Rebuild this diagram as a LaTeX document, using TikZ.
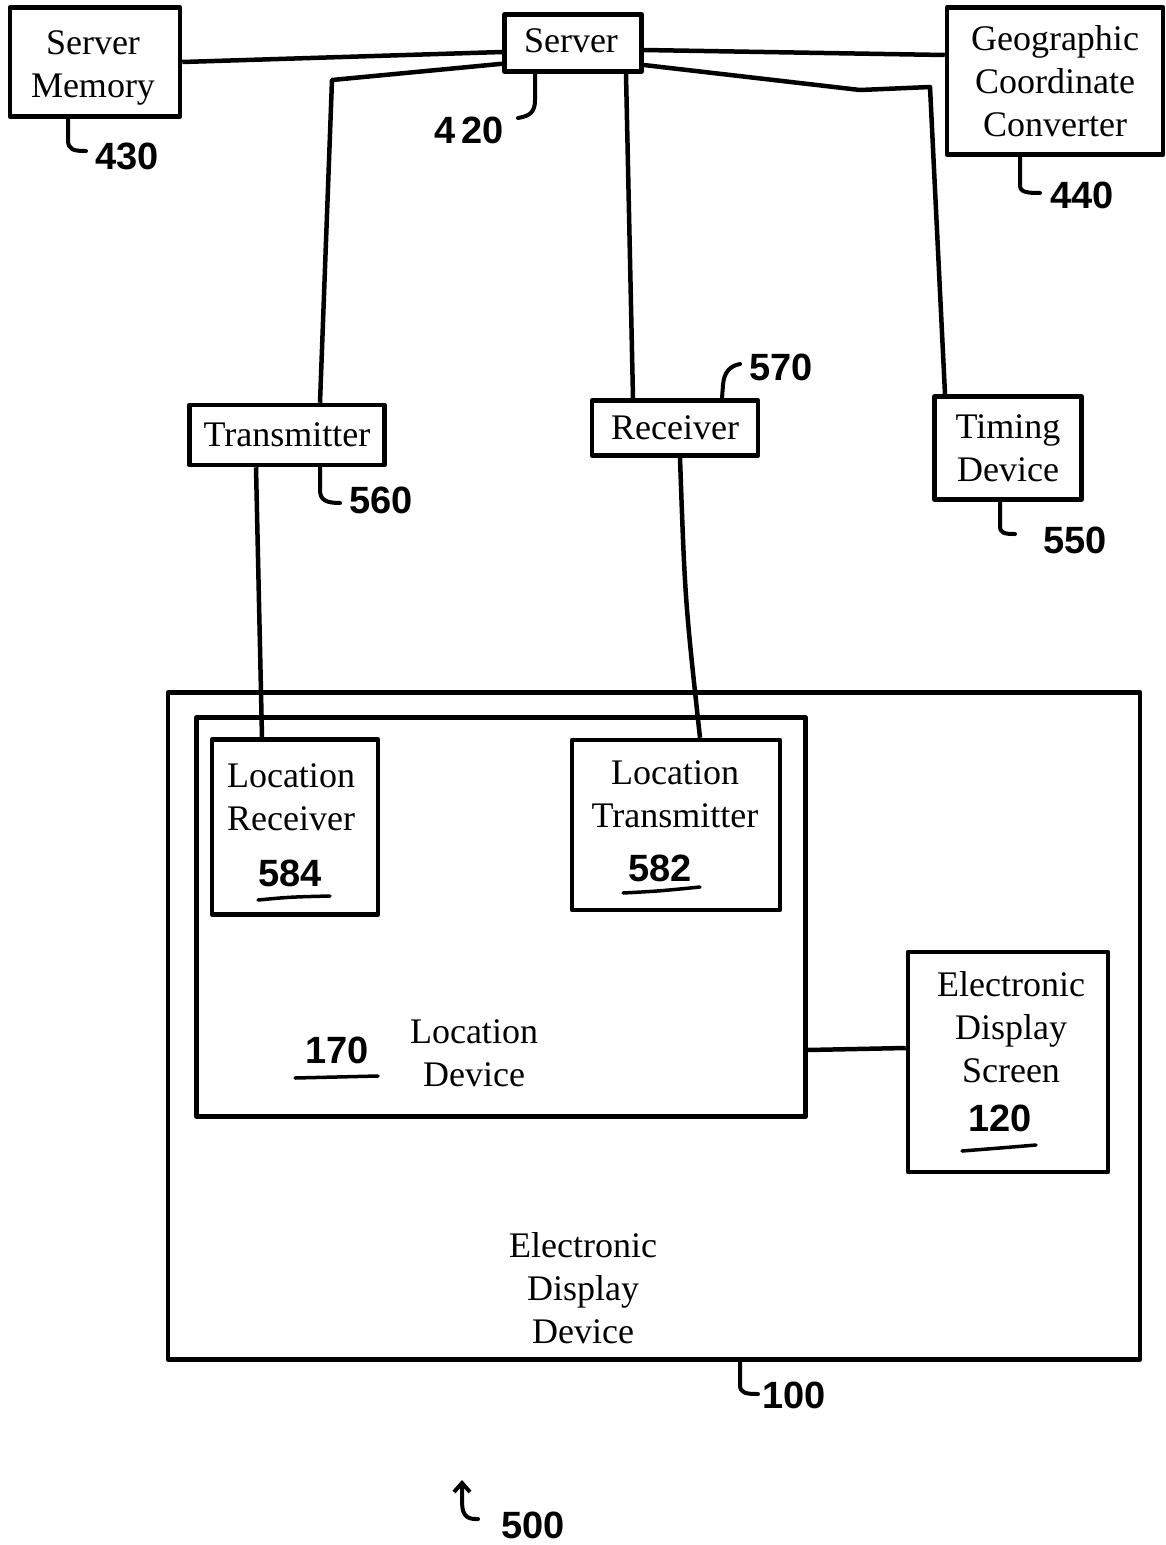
\documentclass[tikz,border=0pt]{standalone}
\usepackage{fontspec}
\setmainfont{Liberation Serif}
\newfontfamily\handfont{Liberation Sans}
\usetikzlibrary{calc,arrows.meta}
\newcommand{\lblfont}{\fontsize{36}{43}\selectfont}
\newcommand{\numfont}{\handfont\bfseries\fontsize{38}{44}\selectfont}
\begin{document}
\begin{tikzpicture}[x=1pt,y=-1pt,
  box/.style={draw, line width=4.5pt, line join=round, inner sep=0pt, align=center, font=\lblfont},
  txt/.style={inner sep=0pt, align=center, font=\lblfont},
  wire/.style={line width=4.5pt, line join=round},
  lead/.style={line width=4pt, line cap=round, line join=round},
  num/.style={inner sep=0pt, font=\numfont},
  uline/.style={line width=3.5pt, line cap=round}]
\useasboundingbox (0,0) rectangle (1166,1545);
% top row
\node[box, minimum width=170, minimum height=109] (sm) at (95,62) {};
\node[txt] (smt) at (93,68) {Server\\Memory};
\node[box, minimum width=137, minimum height=57] (srv) at (573,43) {};
\node[txt] (srvt) at (571,41) {Server};
\node[box, minimum width=216, minimum height=147] (geo) at (1055,81) {Geographic\\Coordinate\\Converter};
% middle row
\node[box, minimum width=195, minimum height=60] (tx) at (287,435) {Transmitter};
\node[box, minimum width=166, minimum height=55] (rx) at (675,428) {Receiver};
\node[box, minimum width=147, minimum height=103] (tim) at (1008,448) {Timing\\Device};
% device
\node[box, minimum width=972, minimum height=667] (edd) at (654,1026) {};
\node[box, minimum width=609, minimum height=399] (ld) at (501,917) {};
\node[box, minimum width=166, minimum height=175] (lr) at (295,827) {};
\node[box, minimum width=208, minimum height=170] (lt) at (676,825) {};
\node[box, minimum width=200, minimum height=220] (eds) at (1008,1062) {};
% texts inside device
\node[txt] (eddt) at (583,1288) {Electronic\\Display\\Device};
\node[txt] (ldt) at (474,1053) {Location\\Device};
\node[txt] (lrt) at (291,797) {Location\\Receiver};
\node[txt] (ltt) at (675,794) {Location\\Transmitter};
\node[txt] (edst) at (1011,1027) {Electronic\\Display\\Screen};
% underlined numbers
\node[num] (n170) at (337,1050) {170};
\node[num] (n584) at (290,873) {584};
\node[num] (n582) at (660,868) {582};
\node[num] (n120) at (1000,1118) {120};
\draw[uline] (295,1078) -- (378,1076);
\draw[uline] (258,900) .. controls (290,897) .. (330,896);
\draw[uline] (623,893) .. controls (660,891) .. (700,887);
\draw[uline] (962,1151) .. controls (1000,1148) .. (1036,1145);
% connectors
\draw[wire] (sm.east) -- ($(srv.west)+(0,9)$);
\draw[wire] ($(srv.east)+(0,7)$) -- ($(geo.west)+(0,-26)$);
\coordinate (c1) at (332,80);
\draw[wire] ($(srv.south west)+(0,-10)$) -- (c1) -- ($(tx.north)+(33,0)$);
\draw[wire] ($(srv.south)+(53,0)$) -- ($(rx.north)+(-42,0)$);
\coordinate (c2) at (860,90);
\coordinate (c3) at (930,87);
\draw[wire] ($(srv.east)+(0,22)$) -- (c2) -- (c3) -- ($(tim.north)+(-63,0)$);
\draw[wire] ($(tx.south)+(-31,0)$) -- ($(lr.north)+(-33,0)$);
\draw[wire] ($(rx.south)+(5,0)$) .. controls (685,600) .. ($(lt.north)+(24,0)$);
\draw[wire] ($(ld.east)+(0,133)$) -- ($(eds.west)+(0,-14)$);
% reference numerals with leaders
\node[num] (n430) at (127,156) {430};
\draw[lead] ($(sm.south)+(-27,0)$) -- (68,140) .. controls (68,150) and (74,151) .. (86,151);
\node[num] (n420) at (469,130) {4\,20};
\draw[lead] ($(srv.south)+(-38,0)$) -- (535,100) .. controls (535,112) and (530,116) .. (518,118);
\node[num] (n440) at (1082,195) {440};
\draw[lead] ($(geo.south)+(-35,0)$) -- (1020,185) .. controls (1020,192) and (1026,193) .. (1040,193);
\node[num] (n560) at (381,500) {560};
\draw[lead] ($(tx.south)+(33,0)$) -- (320,490) .. controls (320,500) and (326,503) .. (340,503);
\node[num] (n570) at (781,367) {570};
\draw[lead] ($(rx.north)+(47,0)$) -- (723,385) .. controls (724,372) and (730,366) .. (740,364);
\node[num] (n550) at (1075,540) {550};
\draw[lead] ($(tim.south)+(-8,0)$) -- (1000,526) .. controls (1000,533) and (1004,534) .. (1015,534);
\node[num] (n100) at (794,1395) {100};
\draw[lead] ($(edd.south)+(86,0)$) -- (740,1385) .. controls (740,1393) and (746,1394) .. (758,1394);
\node[num] (n500) at (533,1525) {500};
\coordinate (a500) at (462,1480);
\draw[lead, -{Straight Barb[length=9pt, width=16pt, line width=4pt]}] (478,1519) .. controls (464,1520) and (462,1512) .. (462,1500) -- (a500);
\end{tikzpicture}
\end{document}
